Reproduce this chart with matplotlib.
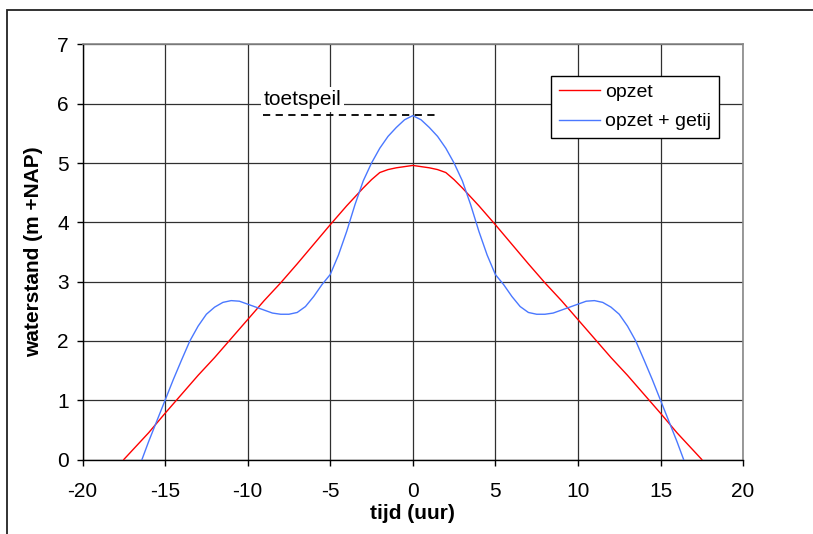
import matplotlib.pyplot as plt
from matplotlib.patches import Rectangle

plt.rcParams['font.family'] = ['Liberation Sans', 'DejaVu Sans']
plt.rcParams['axes.unicode_minus'] = False

# opzet (surge only), symmetric around t=0
opzet_t = [-17.5, -16, -15, -14, -13, -12, -11, -10, -9, -8, -7, -6, -5, -4, -3, -2.5, -2, -1.5, -1, 0,
           1, 1.5, 2, 2.5, 3, 4, 5, 6, 7, 8, 9, 10, 11, 12, 13, 14, 15, 16, 17.5]
opzet_h = [0.0, 0.45, 0.78, 1.1, 1.42, 1.72, 2.04, 2.36, 2.68, 2.98, 3.3, 3.63, 3.96, 4.28, 4.58, 4.72, 4.84, 4.89, 4.92, 4.96,
           4.92, 4.89, 4.84, 4.72, 4.58, 4.28, 3.96, 3.63, 3.3, 2.98, 2.68, 2.36, 2.04, 1.72, 1.42, 1.1, 0.78, 0.45, 0.0]

# opzet + getij (surge + tide)
getij_t = [-16.4, -16, -15, -14.5, -14, -13.5, -13, -12.5, -12, -11.5, -11, -10.5, -10, -9.5, -9, -8.5, -8,
           -7.5, -7, -6.5, -6, -5.5, -5, -4.5, -4, -3.5, -3, -2.5, -2, -1.5, -1, -0.5, 0,
           0.5, 1, 1.5, 2, 2.5, 3, 3.5, 4, 4.5, 5, 5.5, 6, 6.5, 7, 7.5, 8,
           8.5, 9, 9.5, 10, 10.5, 11, 11.5, 12, 12.5, 13, 13.5, 14, 14.5, 15, 16, 16.4]
getij_h = [0.0, 0.3, 1.0, 1.35, 1.68, 2.0, 2.25, 2.45, 2.57, 2.65, 2.68, 2.67, 2.62, 2.57, 2.52, 2.47, 2.45,
           2.45, 2.48, 2.58, 2.75, 2.95, 3.12, 3.45, 3.85, 4.3, 4.7, 5.0, 5.25, 5.45, 5.6, 5.73, 5.8,
           5.73, 5.6, 5.45, 5.25, 5.0, 4.7, 4.3, 3.85, 3.45, 3.12, 2.95, 2.75, 2.58, 2.48, 2.45, 2.45,
           2.47, 2.52, 2.57, 2.62, 2.67, 2.68, 2.65, 2.57, 2.45, 2.25, 2.0, 1.68, 1.35, 1.0, 0.3, 0.0]

toetspeil = 5.81
xticks = list(range(-20, 21, 5))
yticks = list(range(0, 8))

fig = plt.figure(figsize=(8.13, 5.34), dpi=100)
ax = fig.add_axes([0.1015, 0.1395, 0.8125, 0.7772])

# outer chart frame (cut off at right and bottom like the original)
fig.patches.append(Rectangle((7 / 813, -0.1), 1.2, 1.1 - 10.5 / 534, transform=fig.transFigure,
                             fill=False, edgecolor='#222222', linewidth=1.3, zorder=0))

ax.plot(opzet_t, opzet_h, color='#ff0000', linewidth=1.0, label='opzet', zorder=3)
ax.plot(getij_t, getij_h, color='#4a78ff', linewidth=1.0, label='opzet + getij', zorder=3)

ax.plot([-9.05, 1.35], [toetspeil, toetspeil], color='black', linestyle=(0, (4, 3)), linewidth=1.3, zorder=3)
ax.text(-9.05, 6.07, 'toetspeil', fontsize=15, ha='left', va='center', zorder=4,
        bbox=dict(facecolor='white', edgecolor='none', pad=2))

ax.set_xlim(-20, 20)
ax.set_ylim(0, 7)
ax.set_xticks(xticks)
ax.set_yticks(yticks)
ax.grid(True, color='#303030', linewidth=0.9)
ax.set_axisbelow(True)
ax.tick_params(direction='out', length=4, width=1, labelsize=15, pad=6)
ax.tick_params(axis='x', pad=12)

for s in ['top', 'right']:
    ax.spines[s].set_color('#888888')
    ax.spines[s].set_linewidth(1.2)
for s in ['left', 'bottom']:
    ax.spines[s].set_color('black')
    ax.spines[s].set_linewidth(1.0)

ax.set_xlabel('tijd (uur)', fontsize=15, fontweight='bold', labelpad=2)
ax.set_ylabel('waterstand (m +NAP)', fontsize=15, fontweight='bold', labelpad=10)

leg = ax.legend(loc='upper left', bbox_to_anchor=(551 / 813, 1 - 75.7 / 534), bbox_transform=fig.transFigure,
                fontsize=14, frameon=True, fancybox=False, edgecolor='black', framealpha=1,
                handlelength=2.1, handletextpad=0.3, labelspacing=0.6, borderpad=0.4, borderaxespad=0)
leg.get_frame().set_linewidth(1.0)

plt.savefig('out.png', dpi=100)
